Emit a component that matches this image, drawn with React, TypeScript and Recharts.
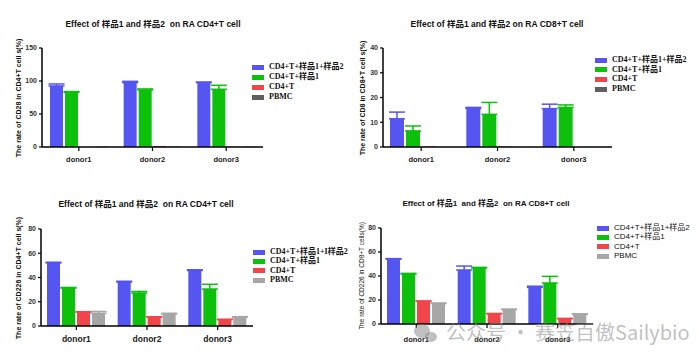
import React from 'react';
import { BarChart, Bar, XAxis, YAxis, ErrorBar } from 'recharts';

const donors = ['donor1', 'donor2', 'donor3'];

// Panel A: CD28 in CD4+T
const aCombo = [92.5, 97.5, 97.5];
const aComboErr = [3, 2, 1];
const aS1 = [83, 86.5, 87.5];
const aS1Err = [1, 1.5, 6];
const aCd4 = [0, 1.5, 0.5];
const aPbmc = [0.5, 0.5, 0.5];

// Panel B: CD8 in CD8+T
const bCombo = [11.4, 15.6, 15.5];
const bComboErr = [2.7, 0.4, 1.8];
const bS1 = [6.5, 13.2, 16];
const bS1Err = [2, 4.8, 1];
const bCd4 = [0.2, 0.2, 0];
const bPbmc = [0, 0, 0];

// Panel C: CD226 in CD4+T
const cCombo = [52, 36.3, 45.8];
const cComboErr = [0.6, 0.6, 0.6];
const cS1 = [31.3, 27.2, 30.5];
const cS1Err = [0.5, 1.3, 3.9];
const cCd4 = [11.5, 7.4, 5.3];
const cCd4Err = [0.3, 0.2, 0.2];
const cPbmc = [10.5, 9.9, 7.2];
const cPbmcErr = [1.5, 0.6, 0.5];

// Panel D: CD226 in CD8+T
const dCombo = [54, 45, 30.5];
const dComboErr = [0.5, 3.3, 1];
const dS1 = [41.7, 46.7, 34.2];
const dS1Err = [0.5, 0.5, 5.5];
const dCd4 = [18.9, 8.5, 4.4];
const dCd4Err = [0.3, 0.3, 0.3];
const dPbmc = [17, 12, 8];
const dPbmcErr = [0.5, 0.4, 0.5];

const legendAB = ['CD4+T+样品1+样品2', 'CD4+T+样品1', 'CD4+T', 'PBMC'];
const legendC = ['CD4+T+样品1+I样品2', 'CD4+T+样品1', 'CD4+T', 'PBMC'];
const legendD = ['CD4+T+样品1+样品2', 'CD4+T+样品1', 'CD4+T', 'PBMC'];

const titleA = 'Effect of 样品1 and 样品2  on RA CD4+T cell';
const titleB = 'Effect of 样品1 and 样品2 on RA CD8+T cell';
const titleC = 'Effect of 样品1 and 样品2  on RA CD4+T cell';
const titleD = 'Effect of 样品1  and 样品2  on RA CD8+T cell';

const yLabelA = 'The rate of CD28 in CD4+T cell s(%)';
const yLabelB = 'The rate of CD8 in CD8+T cell s(%)';
const yLabelC = 'The rate of CD226 in CD4+T cell s(%)';
const yLabelD = 'The rate of CD226 in CD8+T cells(%)';

const ticksA = [0, 50, 100, 150];
const ticksB = [0, 10, 20, 30, 40];
const ticksCD = [0, 20, 40, 60, 80];

const watermark = '公众号 · 赛笠百傲Sailybio';

const BLUE = '#5555F2';
const GREEN = '#0CC00C';
const RED = '#F0454A';
const GRAY_DARK = '#5F5F5F';
const GRAY = '#A6A6A6';

const SANS = 'Arial, "Liberation Sans", "Noto Sans CJK SC", sans-serif';
const SERIF = '"Liberation Serif", "Noto Sans CJK SC", serif';

type PanelProps = {
  left: number; top: number; width: number; height: number;
  plot: { x0: number; x1: number; y0: number; y1: number };
  series: number[][]; errs: (number[] | null)[];
  colors: string[]; legend: string[]; ticks: number[];
  title: string; titleX: number; titleY: number; titleSize: number;
  yLabel: string; yLabelX: number; yLabelSize: number; yLabelWeight: string | number;
  legendX: number; legendY: number; legendStep: number; legendFont: string; legendSize: number; legendWeight: string | number;
  barSize: number; barGap: number; xFont: number; xLabelGap: number;
};

function Panel(p: PanelProps) {
  const data = donors.map((d, i) => {
    const row: any = { donor: d };
    p.series.forEach((s, k) => {
      row['s' + k] = s[i];
      const e = p.errs[k];
      if (e) row['e' + k] = [0, e[i]];
    });
    return row;
  });
  const yAxisW = 30;
  const margin = {
    top: p.plot.y0 - p.top,
    bottom: p.top + p.height - p.plot.y1 - 24,
    left: p.plot.x0 - p.left - yAxisW,
    right: p.left + p.width - p.plot.x1,
  };
  const midY = (p.plot.y0 + p.plot.y1) / 2 - p.top;
  return (
    <div style={{ position: 'absolute', left: p.left, top: p.top, width: p.width, height: p.height }}>
      <BarChart width={p.width} height={p.height} data={data} margin={margin} barSize={p.barSize} barGap={p.barGap} barCategoryGap={0}>
        <XAxis
          dataKey="donor"
          interval={0}
          height={24}
          tickSize={4}
          tickMargin={p.xLabelGap}
          axisLine={{ stroke: '#000', strokeWidth: 1.5 }}
          tickLine={{ stroke: '#000', strokeWidth: 1.2 }}
          tick={{ fontSize: p.xFont, fill: '#222', fontFamily: SANS, fontWeight: 'bold' }}
        />
        <YAxis
          type="number"
          width={yAxisW}
          domain={[p.ticks[0], p.ticks[p.ticks.length - 1]]}
          ticks={p.ticks}
          interval={0}
          tickSize={3}
          tickMargin={2}
          axisLine={{ stroke: '#000', strokeWidth: 1.5 }}
          tickLine={{ stroke: '#000', strokeWidth: 1.2 }}
          tick={{ fontSize: 7, fill: '#333', fontFamily: SANS, fontWeight: 'bold' }}
        />
        {p.series.map((_, k) => (
          <Bar key={k} dataKey={'s' + k} fill={p.colors[k]} isAnimationActive={false}>
            {p.errs[k] ? (
              <ErrorBar dataKey={'e' + k} width={8} stroke={p.colors[k]} strokeWidth={1.5} direction="y" isAnimationActive={false} />
            ) : null}
          </Bar>
        ))}
      </BarChart>
      <div style={{ position: 'absolute', left: p.titleX - p.left - 150, top: p.titleY - p.top - p.titleSize * 0.6, width: 300, textAlign: 'center', fontFamily: SANS, fontSize: p.titleSize, fontWeight: 'bold', color: '#111', whiteSpace: 'pre', lineHeight: 1.2 }}>
        {p.title}
      </div>
      <div style={{ position: 'absolute', left: p.yLabelX - p.left - 100, top: midY - 5, width: 200, height: 10, textAlign: 'center', fontFamily: SANS, fontSize: p.yLabelSize, fontWeight: p.yLabelWeight as any, color: '#111', transform: 'rotate(-90deg)', whiteSpace: 'pre', lineHeight: '10px' }}>
        {p.yLabel}
      </div>
      {p.legend.map((name, k) => (
        <div key={k} style={{ position: 'absolute', left: p.legendX - p.left, top: p.legendY - p.top + k * p.legendStep - 5, height: 10, display: 'flex', alignItems: 'center', whiteSpace: 'pre' }}>
          <div style={{ width: 12, height: 5, background: p.colors[k], marginRight: 5 }} />
          <span style={{ fontFamily: p.legendFont, fontSize: p.legendSize, fontWeight: p.legendWeight as any, color: '#111', lineHeight: '10px' }}>{name}</span>
        </div>
      ))}
    </div>
  );
}

export default function App() {
  return (
    <div style={{ position: 'absolute', left: 0, top: 0, width: 699, height: 362, background: '#fff', overflow: 'hidden' }}>
      <Panel
        left={0} top={0} width={350} height={180}
        plot={{ x0: 42, x1: 263, y0: 48, y1: 147 }}
        series={[aCombo, aS1, aCd4, aPbmc]}
        errs={[aComboErr, aS1Err, null, null]}
        colors={[BLUE, GREEN, RED, GRAY_DARK]}
        legend={legendAB} ticks={ticksA}
        title={titleA} titleX={153} titleY={24} titleSize={8.5}
        yLabel={yLabelA} yLabelX={19} yLabelSize={7} yLabelWeight="bold"
        legendX={252} legendY={67} legendStep={10} legendFont={SERIF} legendSize={8} legendWeight="bold"
        barSize={13} barGap={2} xFont={7.5} xLabelGap={6}
      />
      <Panel
        left={350} top={0} width={349} height={180}
        plot={{ x0: 383, x1: 612, y0: 48, y1: 147 }}
        series={[bCombo, bS1, bCd4, bPbmc]}
        errs={[bComboErr, bS1Err, null, null]}
        colors={[BLUE, GREEN, RED, GRAY_DARK]}
        legend={legendAB} ticks={ticksB}
        title={titleB} titleX={497} titleY={24} titleSize={8.5}
        yLabel={yLabelB} yLabelX={363} yLabelSize={7} yLabelWeight="bold"
        legendX={595} legendY={60} legendStep={9.7} legendFont={SERIF} legendSize={8} legendWeight="bold"
        barSize={14} barGap={2} xFont={7.5} xLabelGap={6}
      />
      <Panel
        left={0} top={180} width={350} height={182}
        plot={{ x0: 41, x1: 253, y0: 229, y1: 326 }}
        series={[cCombo, cS1, cCd4, cPbmc]}
        errs={[cComboErr, cS1Err, cCd4Err, cPbmcErr]}
        colors={[BLUE, GREEN, RED, GRAY]}
        legend={legendC} ticks={ticksCD}
        title={titleC} titleX={146} titleY={204} titleSize={8.5}
        yLabel={yLabelC} yLabelX={19} yLabelSize={7} yLabelWeight="bold"
        legendX={253} legendY={252} legendStep={9.4} legendFont={SERIF} legendSize={8} legendWeight="bold"
        barSize={13} barGap={2} xFont={8.5} xLabelGap={6}
      />
      <Panel
        left={350} top={180} width={349} height={182}
        plot={{ x0: 381, x1: 593, y0: 228, y1: 324 }}
        series={[dCombo, dS1, dCd4, dPbmc]}
        errs={[dComboErr, dS1Err, dCd4Err, dPbmcErr]}
        colors={[BLUE, GREEN, RED, GRAY]}
        legend={legendD} ticks={ticksCD}
        title={titleD} titleX={486} titleY={204} titleSize={8}
        yLabel={yLabelD} yLabelX={362} yLabelSize={6.5} yLabelWeight="normal"
        legendX={597} legendY={228} legendStep={9.4} legendFont={SANS} legendSize={8} legendWeight="normal"
        barSize={13} barGap={2} xFont={7.5} xLabelGap={9}
      />
      <svg width={699} height={362} style={{ position: 'absolute', left: 0, top: 0, pointerEvents: 'none' }}>
        <g fill="rgba(140,140,140,0.55)">
          <ellipse cx={422} cy={331} rx={8} ry={7} />
          <ellipse cx={431} cy={337} rx={6} ry={5} />
          <text x={446} y={340} fontSize={20} fontFamily='"Noto Sans CJK SC", sans-serif'>{watermark}</text>
        </g>
      </svg>
    </div>
  );
}
